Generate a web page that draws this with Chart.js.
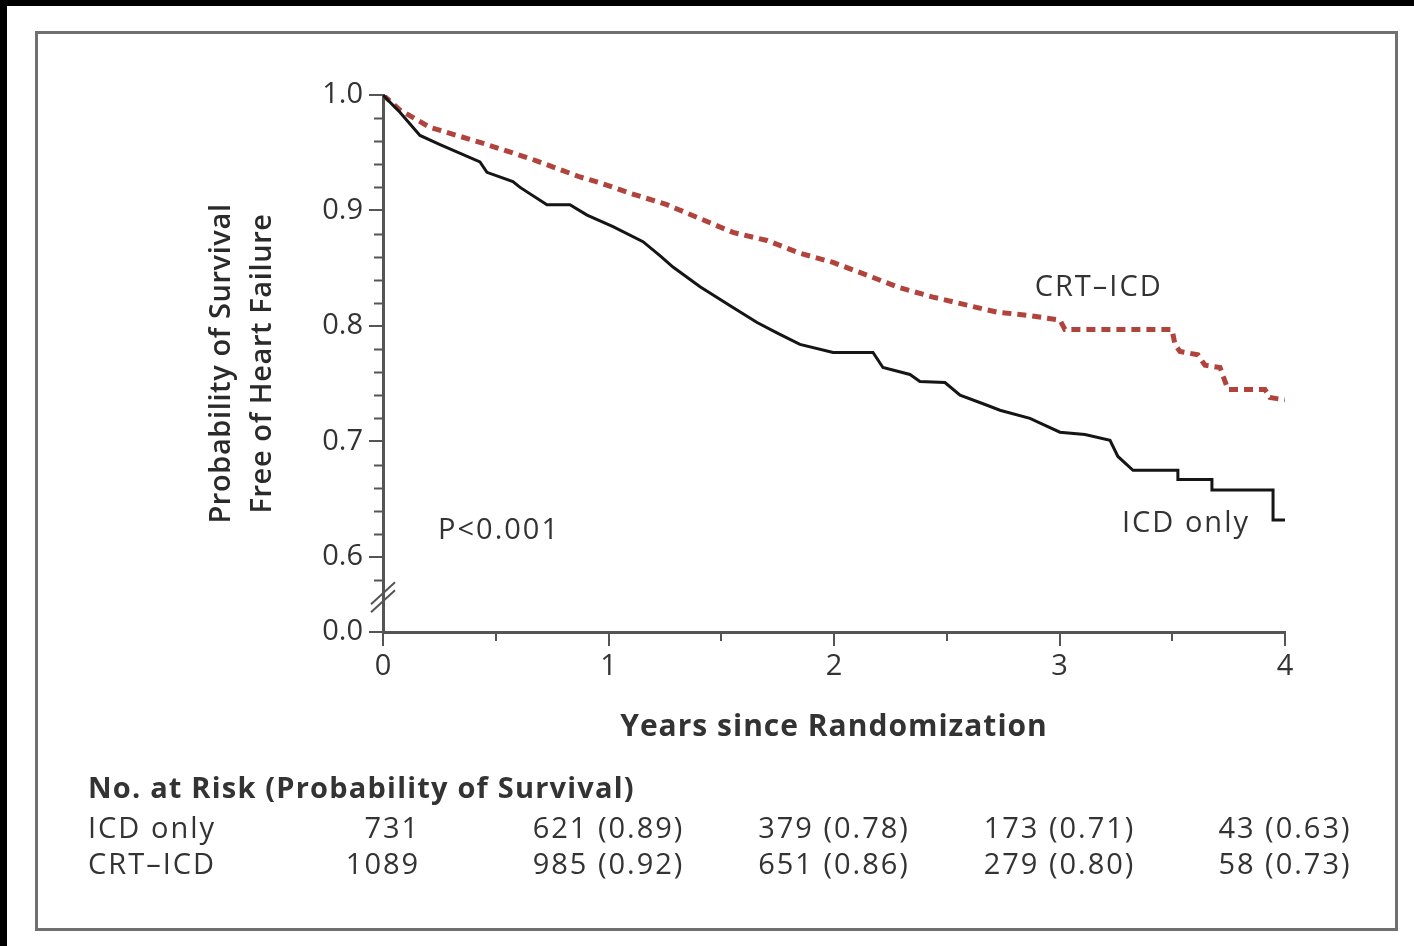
<!DOCTYPE html>
<html>
<head>
<meta charset="utf-8">
<script src="https://cdn.jsdelivr.net/npm/chart.js@4.4.1/dist/chart.umd.min.js"></script>
<style>
  html, body { margin: 0; padding: 0; background: #000; }
  #wrap { width: 1414px; height: 946px; }
</style>
</head>
<body>
<div id="wrap"><canvas id="km" width="1414" height="946"></canvas></div>
<script>
// Kaplan-Meier estimates: survival free of heart failure
const icdTime = [0, 0.075, 0.164, 0.253, 0.430, 0.461, 0.576, 0.608, 0.727, 0.829, 0.905, 1.020,
  1.153, 1.228, 1.286, 1.406, 1.552, 1.659, 1.747, 1.849, 1.996, 2.173, 2.217, 2.337, 2.381,
  2.492, 2.559, 2.670, 2.736, 2.869, 2.936, 3.002, 3.113, 3.224, 3.259, 3.326, 3.525, 3.525,
  3.676, 3.676, 3.947, 3.947, 4.0];
const icdSurv = [1.0, 0.985, 0.965, 0.957, 0.942, 0.933, 0.925, 0.920, 0.905, 0.905, 0.896, 0.886,
  0.873, 0.861, 0.851, 0.834, 0.816, 0.803, 0.794, 0.784, 0.777, 0.777, 0.764, 0.758, 0.752,
  0.751, 0.740, 0.732, 0.727, 0.720, 0.714, 0.708, 0.706, 0.701, 0.687, 0.675, 0.675, 0.667,
  0.667, 0.658, 0.658, 0.632, 0.632];

const crtTime = [0, 0.075, 0.208, 0.430, 0.652, 0.874, 0.962, 1.095, 1.259, 1.406, 1.552, 1.703,
  1.849, 1.996, 2.146, 2.293, 2.439, 2.590, 2.723, 2.869, 3.002, 3.024, 3.499, 3.512, 3.534,
  3.614, 3.645, 3.712, 3.747, 3.911, 3.933, 4.0];
const crtSurv = [1.0, 0.987, 0.972, 0.959, 0.945, 0.929, 0.924, 0.915, 0.905, 0.893, 0.881, 0.874,
  0.863, 0.855, 0.844, 0.833, 0.825, 0.818, 0.812, 0.809, 0.805, 0.797, 0.797, 0.784, 0.778,
  0.775, 0.766, 0.764, 0.745, 0.745, 0.738, 0.736];

// Axis ticks
const xTicks = [0, 1, 2, 3, 4];
const xMinorTicks = [0.5, 1.5, 2.5, 3.5];
const yTicks = [0.6, 0.7, 0.8, 0.9, 1.0];
const yMinorTicks = [0.58, 0.62, 0.64, 0.66, 0.68, 0.72, 0.74, 0.76, 0.78, 0.82, 0.84, 0.86, 0.88,
  0.92, 0.94, 0.96, 0.98];
const yBreakBase = 0.535;   // axis origin drawn below the break, labelled 0.0
const yBreakAt = 0.565;

// Number at risk table
const riskGroups = ['ICD only', 'CRT–ICD'];
const riskYears = [0, 1, 2, 3, 4];
const icdAtRisk = [731, 621, 379, 173, 43];
const icdRiskSurv = [null, 0.89, 0.78, 0.71, 0.63];
const crtAtRisk = [1089, 985, 651, 279, 58];
const crtRiskSurv = [null, 0.92, 0.86, 0.80, 0.73];

const FONT = '"Open Sans", Lato, sans-serif';
const TEXT = '#333';
const AXIS = '#555';

function pts(t, s) { return t.map((v, i) => ({ x: v, y: s[i] })); }

const framePlugin = {
  id: 'frame',
  beforeDraw(chart) {
    const c = chart.ctx;
    c.save();
    c.fillStyle = '#000';
    c.fillRect(0, 0, chart.width, chart.height);
    c.fillStyle = '#fff';
    c.fillRect(7, 6, chart.width - 7, chart.height - 6);
    c.strokeStyle = '#707070';
    c.lineWidth = 3;
    c.strokeRect(36.5, 32.5, 1360, 897);
    c.restore();
  }
};

const decorPlugin = {
  id: 'decor',
  afterDraw(chart) {
    const c = chart.ctx;
    const xs = chart.scales.x, ys = chart.scales.y;
    const a = chart.chartArea;
    c.save();
    // minor ticks
    c.strokeStyle = AXIS;
    c.lineWidth = 2;
    c.beginPath();
    yMinorTicks.forEach(v => {
      const py = Math.round(ys.getPixelForValue(v)) + 0.5;
      c.moveTo(a.left - 9, py); c.lineTo(a.left, py);
    });
    xMinorTicks.forEach(v => {
      const px = Math.round(xs.getPixelForValue(v));
      c.moveTo(px, a.bottom); c.lineTo(px, a.bottom + 9);
    });
    c.stroke();
    // axis break marks
    const bx = a.left, by = ys.getPixelForValue(yBreakAt);
    c.beginPath();
    [-4, 4].forEach(o => {
      c.moveTo(bx - 12, by + o + 11); c.lineTo(bx + 12, by + o - 11);
    });
    c.lineWidth = 2;
    c.stroke();

    // curve labels
    c.fillStyle = TEXT;
    c.textBaseline = 'middle';
    c.textAlign = 'left';
    c.font = '29px ' + FONT;
    c.letterSpacing = '2px';
    c.fillText('P<0.001', xs.getPixelForValue(0.244), ys.getPixelForValue(0.623));
    c.fillText('CRT–ICD', xs.getPixelForValue(2.89), ys.getPixelForValue(0.833));
    c.fillText('ICD only', xs.getPixelForValue(3.277), ys.getPixelForValue(0.629));

    // axis titles
    c.textAlign = 'center';
    c.font = 'bold 30px ' + FONT;
    c.letterSpacing = '1px';
    c.fillText('Years since Randomization', (a.left + a.right) / 2, 727);
    const cy = (a.top + a.bottom) / 2;
    c.font = '600 29px ' + FONT;
    c.letterSpacing = '0.6px';
    c.fillStyle = '#2a2a2a';
    c.save();
    c.translate(222, cy);
    c.rotate(-Math.PI / 2);
    c.fillText('Probability of Survival', 0, 0);
    c.restore();
    c.save();
    c.translate(263, cy);
    c.rotate(-Math.PI / 2);
    c.fillText('Free of Heart Failure', 0, 0);
    c.restore();

    // number at risk table
    c.fillStyle = TEXT;
    c.textAlign = 'left';
    c.font = 'bold 29px ' + FONT;
    c.letterSpacing = '1.2px';
    c.fillText('No. at Risk (Probability of Survival)', 88, 790);
    c.font = '29px ' + FONT;
    c.letterSpacing = '2px';
    const rowY = [830, 866];
    c.fillText(riskGroups[0], 88, rowY[0]);
    c.fillText(riskGroups[1], 88, rowY[1]);
    const cell = (n, p) => p === null ? String(n) : n + ' (' + p.toFixed(2) + ')';
    riskYears.forEach((yr, i) => {
      const s1 = cell(icdAtRisk[i], icdRiskSurv[i]);
      const s2 = cell(crtAtRisk[i], crtRiskSurv[i]);
      const w = Math.max(c.measureText(s1).width, c.measureText(s2).width);
      const right = xs.getPixelForValue(yr) + w / 2;
      c.textAlign = 'right';
      c.fillText(s1, right, rowY[0]);
      c.fillText(s2, right, rowY[1]);
    });
    c.restore();
  }
};

new Chart(document.getElementById('km'), {
  type: 'line',
  data: {
    datasets: [
      {
        label: 'ICD only',
        data: pts(icdTime, icdSurv),
        borderColor: '#151515',
        borderWidth: 3,
        pointRadius: 0,
        tension: 0,
        fill: false
      },
      {
        label: 'CRT–ICD',
        data: pts(crtTime, crtSurv),
        borderColor: '#b0443c',
        borderWidth: 5,
        borderDash: [9, 6],
        borderCapStyle: 'butt',
        pointRadius: 0,
        tension: 0,
        fill: false
      }
    ]
  },
  options: {
    responsive: false,
    animation: false,
    events: [],
    layout: { padding: { left: 0, top: 95, right: 129, bottom: 0 } },
    plugins: { legend: { display: false }, tooltip: { enabled: false } },
    scales: {
      x: {
        type: 'linear',
        min: 0, max: 4,
        afterBuildTicks: s => { s.ticks = xTicks.map(v => ({ value: v })); },
        afterFit: s => { s.height = 946 - 632; },
        grid: { drawOnChartArea: false, tickLength: 14, color: AXIS, lineWidth: 2 },
        border: { color: AXIS, width: 3 },
        ticks: {
          autoSkip: false, maxRotation: 0, color: TEXT, padding: 3,
          font: { family: FONT, size: 29 },
          callback: v => String(v)
        }
      },
      y: {
        type: 'linear',
        min: yBreakBase, max: 1.0,
        afterBuildTicks: s => { s.ticks = [yBreakBase].concat(yTicks).map(v => ({ value: v })); },
        afterFit: s => { s.width = 383; },
        grid: { drawOnChartArea: false, tickLength: 14, color: AXIS, lineWidth: 2 },
        border: { color: AXIS, width: 3 },
        ticks: {
          autoSkip: false, color: TEXT, padding: 6,
          font: { family: FONT, size: 29 },
          callback: v => (v === yBreakBase ? '0.0' : v.toFixed(1))
        }
      }
    }
  },
  plugins: [framePlugin, decorPlugin]
});
</script>
</body>
</html>
